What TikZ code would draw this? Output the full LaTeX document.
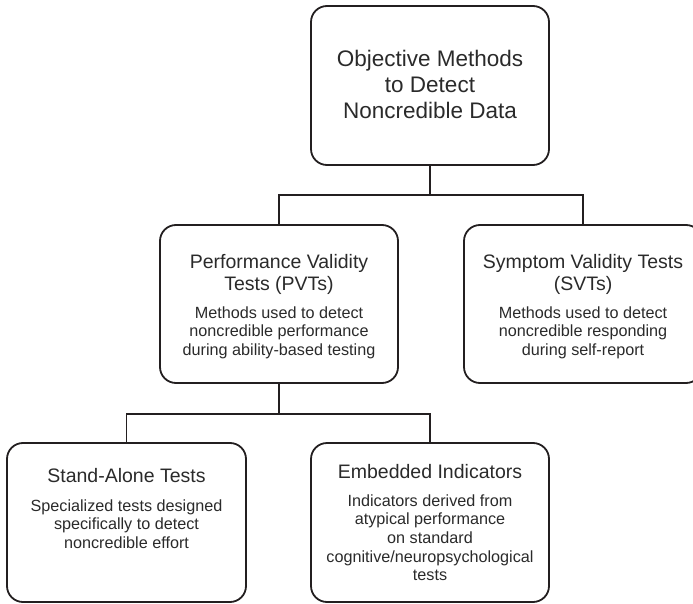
\documentclass[tikz,border=0pt]{standalone}
\usepackage{fontspec}
\setmainfont{Liberation Sans}
\definecolor{linec}{HTML}{231F20}
\definecolor{txtc}{HTML}{2A2A2A}
\begin{document}
\begin{tikzpicture}[x=1pt,y=-1pt,
  box/.style={draw=linec, line width=1.8pt, rounded corners=16pt,
    minimum width=238pt, minimum height=158pt, inner sep=0pt},
  conn/.style={draw=linec, line width=1.6pt},
  ttl/.style={font=\fontsize{22.5}{25.7}\selectfont, align=center, inner sep=0pt, anchor=north, text=txtc},
  hd/.style={font=\fontsize{19.5}{22}\selectfont, align=center, inner sep=0pt, anchor=north, text=txtc},
  sub/.style={font=\fontsize{16.2}{18.6}\selectfont, align=center, inner sep=0pt, anchor=north, text=txtc}]
\useasboundingbox (0,0) rectangle (693,604);
\clip (0,0) rectangle (693,604);

% boxes
\node[box, minimum height=159pt] (top) at (430,85.5) {};
\node[box] (pvt) at (279,304) {};
\node[box] (svt) at (583,304) {};
\node[box, minimum width=239pt, minimum height=159pt] (sa) at (126.5,522.5) {};
\node[box, minimum height=159pt] (emb) at (430,522.5) {};

% texts
\node[ttl] (topt) at ([yshift=-45.3pt]top.north) {Objective Methods\\to Detect\\Noncredible Data};

\node[hd] (pvth) at ([yshift=-30pt]pvt.north) {Performance Validity\\Tests (PVTs)};
\node[sub] (pvts) at ([yshift=-82.3pt]pvt.north) {Methods used to detect\\noncredible performance\\during ability-based testing};

\node[hd] (svth) at ([yshift=-30pt]svt.north) {Symptom Validity Tests\\(SVTs)};
\node[sub] (svts) at ([yshift=-82.3pt]svt.north) {Methods used to detect\\noncredible responding\\during self-report};

\node[hd] (sah) at ([yshift=-26pt]sa.north) {Stand-Alone Tests};
\node[sub] (sas) at ([yshift=-57.3pt]sa.north) {Specialized tests designed\\specifically to detect\\noncredible effort};

\node[hd] (embh) at ([yshift=-22pt]emb.north) {Embedded Indicators};
\node[sub] (embs) at ([yshift=-52.3pt]emb.north) {Indicators derived from\\atypical performance\\on standard\\cognitive/neuropsychological\\tests};

% connectors
\coordinate (j1) at (top.south |- 0,195);
\coordinate (j2) at (pvt.south |- 0,414);
\draw[conn] (top.south) -- (j1);
\draw[conn] (pvt.north) |- (j1) -| (svt.north);
\draw[conn] (pvt.south) -- (j2);
\draw[conn] (sa.north) |- (j2) -| (emb.north);
\end{tikzpicture}
\end{document}
